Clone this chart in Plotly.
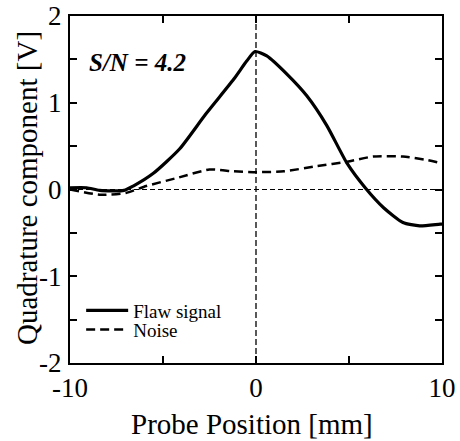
import plotly.graph_objects as go

flaw_x = [-10.0, -9.1, -8.4, -7.1, -6.6, -5.5, -4.1, -2.7, -1.2, -0.5, -0.05, 0.58, 1.66, 2.73, 3.8, 4.9, 5.87, 6.86, 7.9, 8.8, 9.9, 10.0]
flaw_y = [0.02, 0.02, -0.01, -0.01, 0.04, 0.19, 0.47, 0.87, 1.27, 1.48, 1.59, 1.54, 1.33, 1.08, 0.74, 0.30, 0.02, -0.21, -0.38, -0.42, -0.40, -0.40]

noise_x = [-10.0, -8.4, -7.0, -5.9, -4.3, -2.5, -1.2, 0.04, 1.5, 3.3, 4.9, 6.3, 7.9, 9.2, 10.0]
noise_y = [0.0, -0.06, -0.04, 0.04, 0.13, 0.23, 0.21, 0.20, 0.21, 0.27, 0.32, 0.38, 0.38, 0.34, 0.30]

x_ticks = [-10, -5, 0, 5, 10]
x_labels = ["-10", "", "0", "", "10"]
y_ticks = [-2, -1.5, -1, -0.5, 0, 0.5, 1, 1.5, 2]
y_labels = ["-2", "", "-1", "", "0", "", "1", "", "2"]

FONT = "Liberation Serif, Times New Roman, serif"

fig = go.Figure()
fig.add_trace(go.Scatter(x=flaw_x, y=flaw_y, mode="lines", name="Flaw signal", legend="legend",
                         line=dict(color="black", width=3.2, shape="spline", smoothing=0.6)))
fig.add_trace(go.Scatter(x=noise_x, y=noise_y, mode="lines", name="Noise", legend="legend2",
                         line=dict(color="black", width=2.5, dash="9px,5px", shape="spline", smoothing=0.6)))

fig.add_hline(y=0, line=dict(color="black", width=1, dash="5px,3px"))
fig.add_vline(x=0, line=dict(color="black", width=1.3, dash="6px,3px"))

fig.add_annotation(text="<b><i>S/N = 4.2</i></b>", xref="paper", yref="paper",
                   x=0.045, y=0.865, xanchor="left", yanchor="middle", showarrow=False,
                   font=dict(family=FONT, size=25, color="black"))

# axis titles
fig.add_annotation(text="Probe Position [mm]", xref="paper", yref="paper",
                   x=0.49, y=-0.177, xanchor="center", yanchor="middle", showarrow=False,
                   font=dict(family=FONT, size=29, color="black"))
fig.add_annotation(text="Quadrature component [V]", xref="paper", yref="paper",
                   x=-0.115, y=0.505, xanchor="center", yanchor="middle", showarrow=False,
                   textangle=-90, font=dict(family=FONT, size=29, color="black"))

axis_common = dict(showgrid=False, zeroline=False, showline=True, linecolor="black", linewidth=2,
                   mirror="allticks", ticks="inside", ticklen=7, tickwidth=1.5, tickcolor="black",
                   automargin=False,
                   tickfont=dict(family=FONT, size=27, color="black"))

fig.update_xaxes(range=[-10, 10], tickvals=x_ticks, ticktext=x_labels,
                 ticklabelstandoff=0, **axis_common)
fig.update_yaxes(range=[-2, 2], tickvals=y_ticks, ticktext=y_labels,
                 ticklabelstandoff=1, **axis_common)

legend_common = dict(xanchor="left", yanchor="top", bgcolor="rgba(0,0,0,0)",
                     font=dict(family=FONT, size=19, color="black"), itemwidth=42)

fig.update_layout(width=460, height=441, margin=dict(l=70, r=18, t=16, b=78),
                  plot_bgcolor="white", paper_bgcolor="white",
                  legend=dict(x=0.03, y=0.206, **legend_common),
                  legend2=dict(x=0.03, y=0.151, **legend_common),
                  showlegend=True)

fig.write_html("out.html", config={"displayModeBar": False},
               post_script="document.body.style.margin='0px';document.body.style.overflow='hidden';")
